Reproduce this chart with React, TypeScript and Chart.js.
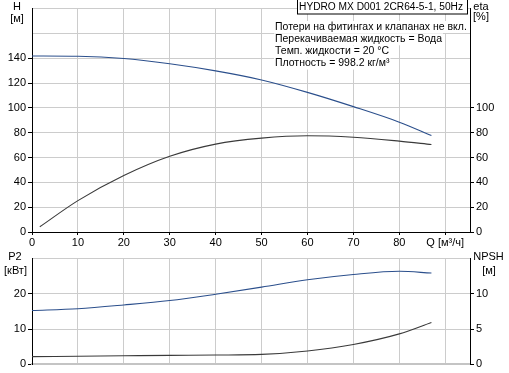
import React, { useEffect, useRef } from 'react';
import { Chart, registerables } from 'chart.js';
Chart.register(...registerables);

// ---- data ----
const flowH = [0, 10, 20, 30, 40, 50, 60, 70, 80, 87];
const headH = [141.8, 141.6, 139.8, 135.5, 129.8, 122.5, 112.5, 101, 88.5, 77.8];
const flowEta = [1.7, 10, 20, 30, 40, 50, 60, 70, 80, 87];
const etaPct = [4.2, 25.3, 45.5, 61, 70.8, 75.6, 77.5, 76.3, 73.2, 70.5];
const flowP = [0, 10, 20, 30, 40, 50, 60, 70, 80, 87];
const powerP2 = [15.3, 15.8, 16.85, 18.1, 19.9, 21.9, 24, 25.5, 26.4, 25.9];
const npshM = [1.1, 1.16, 1.22, 1.28, 1.33, 1.42, 1.9, 2.83, 4.33, 5.95];

const qMin = 0;
const qMax = 95.4;
const qStep = 10;
const qAxisLabel = 'Q [м³/ч]';
const qLabelAt = 90;
const hMax = 180;
const hStep = 20;
const hLabelMax = 140;
const etaLabelMax = 100;
const p2Max = 30;
const p2Step = 10;
const p2LabelMax = 20;
const npshMax = 15;
const npshStep = 5;
const npshLabelMax = 10;

const titleText = 'HYDRO MX D001 2CR64-5-1, 50Hz';
const notes = [
  'Потери на фитингах и клапанах не вкл.',
  'Перекачиваемая жидкость = Вода',
  'Темп. жидкости = 20 °C',
  'Плотность = 998.2 кг/м³',
];

const FONT_FAMILY = '"Liberation Sans", Arial, sans-serif';
const font = { family: FONT_FAMILY, size: 11 };
const GRID = '#cccccc';
const BLUE = '#2b4f8c';
const DARK = '#3a3a3a';

const toXY = (xs: number[], ys: number[]) => xs.map((x, i) => ({ x, y: ys[i] }));

const keepDecades = (s: any) => {
  s.ticks = s.ticks.filter((t: any) => Math.abs(t.value / qStep - Math.round(t.value / qStep)) < 1e-6);
};

const tickCol = (limit: number) => (ctx: any) =>
  ctx.tick && ctx.tick.value <= limit + 1e-6 ? '#000' : 'rgba(0,0,0,0)';

const fitFont = (c: any, text: string, target: number) => {
  c.font = `11px ${FONT_FAMILY}`;
  const w = c.measureText(text).width;
  const size = Math.min(11, (11 * target) / w);
  c.font = `${size.toFixed(2)}px ${FONT_FAMILY}`;
};

const topTexts = {
  id: 'topTexts',
  afterDraw(chart: any) {
    const c = chart.ctx;
    c.save();
    c.font = `11px ${FONT_FAMILY}`;
    c.fillStyle = '#000';
    c.textAlign = 'center';
    c.textBaseline = 'middle';
    c.fillText('H', 17, 7);
    c.fillText('[м]', 17, 19);
    c.fillText('eta', 481, 7);
    c.fillText('[%]', 481, 17);
    // title box
    c.fillStyle = '#fff';
    c.fillRect(297, 0, 171, 14);
    c.strokeStyle = '#000';
    c.lineWidth = 1;
    c.strokeRect(297.5, -0.5, 170, 14.5);
    c.fillStyle = '#000';
    fitFont(c, titleText, 164);
    c.fillText(titleText, 381, 7.5);
    // notes
    fitFont(c, notes[0], 192);
    c.textAlign = 'left';
    const ys = [27, 39.3, 51.6, 63.6];
    notes.forEach((t, i) => {
      const w = c.measureText(t).width;
      c.fillStyle = '#fff';
      c.fillRect(274, ys[i] - 6, w + 2, 12);
      c.fillStyle = '#000';
      c.fillText(t, 275, ys[i]);
    });
    c.restore();
  },
};

const bottomTexts = {
  id: 'bottomTexts',
  afterDraw(chart: any) {
    const c = chart.ctx;
    c.save();
    c.font = `11px ${FONT_FAMILY}`;
    c.fillStyle = '#000';
    c.textAlign = 'center';
    c.textBaseline = 'middle';
    c.fillText('P2', 15, 7);
    c.fillText('[кВт]', 15.5, 21);
    c.fillText('NPSH', 488.5, 7);
    c.fillText('[м]', 489, 21);
    c.restore();
  },
};

function TopChart() {
  const ref = useRef<HTMLCanvasElement>(null);
  useEffect(() => {
    const chart = new Chart(ref.current as HTMLCanvasElement, {
      type: 'line',
      data: {
        datasets: [
          {
            data: toXY(flowH, headH),
            yAxisID: 'y',
            borderColor: BLUE,
            borderWidth: 1.1,
            pointRadius: 0,
            cubicInterpolationMode: 'monotone',
          },
          {
            data: toXY(flowEta, etaPct),
            yAxisID: 'eta',
            borderColor: DARK,
            borderWidth: 1.1,
            pointRadius: 0,
            cubicInterpolationMode: 'monotone',
          },
        ],
      },
      options: {
        animation: false,
        responsive: false,
        devicePixelRatio: 1,
        layout: { padding: 0 },
        plugins: { legend: { display: false }, tooltip: { enabled: false } },
        scales: {
          x: {
            type: 'linear',
            min: qMin,
            max: qMax,
            ticks: {
              stepSize: qStep,
              includeBounds: false,
              color: '#000',
              font,
              padding: 1,
              maxRotation: 0,
              autoSkip: false,
              callback: (v: any) => (Math.abs(v - qLabelAt) < 1e-6 ? qAxisLabel : String(v)),
            },
            afterBuildTicks: keepDecades,
            grid: { color: GRID, lineWidth: 1, tickLength: 3, tickColor: '#000' },
            border: { color: '#000', width: 1 },
            afterFit: (s: any) => {
              s.height = 18;
            },
          },
          y: {
            position: 'left',
            min: 0,
            max: hMax,
            ticks: {
              stepSize: hStep,
              color: '#000',
              font,
              padding: 2,
              callback: (v: any) => (v <= hLabelMax ? String(v) : ''),
            },
            grid: { color: GRID, lineWidth: 1, tickLength: 4, tickColor: tickCol(hLabelMax) },
            border: { color: '#000', width: 1 },
            afterFit: (s: any) => {
              s.width = 32;
            },
          },
          eta: {
            position: 'right',
            min: 0,
            max: hMax,
            ticks: {
              stepSize: hStep,
              color: '#000',
              font,
              padding: 2,
              callback: (v: any) => (v <= etaLabelMax ? String(v) : ''),
            },
            grid: { drawOnChartArea: false, tickLength: 4, tickColor: tickCol(etaLabelMax) },
            border: { color: '#000', width: 1 },
            afterFit: (s: any) => {
              s.width = 39;
            },
          },
        },
      } as any,
      plugins: [topTexts],
    });
    return () => chart.destroy();
  }, []);
  return <canvas ref={ref} width={509} height={250} style={{ display: 'block', width: 509, height: 250 }} />;
}

function BottomChart() {
  const ref = useRef<HTMLCanvasElement>(null);
  useEffect(() => {
    const chart = new Chart(ref.current as HTMLCanvasElement, {
      type: 'line',
      data: {
        datasets: [
          {
            data: toXY(flowP, powerP2),
            yAxisID: 'y',
            borderColor: BLUE,
            borderWidth: 1.1,
            pointRadius: 0,
            cubicInterpolationMode: 'monotone',
          },
          {
            data: toXY(flowP, npshM),
            yAxisID: 'npsh',
            borderColor: DARK,
            borderWidth: 1.1,
            pointRadius: 0,
            cubicInterpolationMode: 'monotone',
          },
        ],
      },
      options: {
        animation: false,
        responsive: false,
        devicePixelRatio: 1,
        layout: { padding: { top: 2 } },
        plugins: { legend: { display: false }, tooltip: { enabled: false } },
        scales: {
          x: {
            type: 'linear',
            min: qMin,
            max: qMax,
            ticks: { stepSize: qStep, includeBounds: false, display: false },
            afterBuildTicks: keepDecades,
            grid: { color: GRID, lineWidth: 1, drawTicks: false },
            border: { color: '#c4c4c4', width: 2 },
            afterFit: (s: any) => {
              s.height = 8;
            },
          },
          y: {
            position: 'left',
            min: 0,
            max: p2Max,
            ticks: {
              stepSize: p2Step,
              color: '#000',
              font,
              padding: 2,
              callback: (v: any) => (v <= p2LabelMax ? String(v) : ''),
            },
            grid: { color: GRID, lineWidth: 1, tickLength: 4, tickColor: tickCol(p2LabelMax) },
            border: { color: '#000', width: 1 },
            afterFit: (s: any) => {
              s.width = 32;
            },
          },
          npsh: {
            position: 'right',
            min: 0,
            max: npshMax,
            ticks: {
              stepSize: npshStep,
              color: '#000',
              font,
              padding: 2,
              callback: (v: any) => (v <= npshLabelMax ? String(v) : ''),
            },
            grid: { drawOnChartArea: false, tickLength: 4, tickColor: tickCol(npshLabelMax) },
            border: { color: '#000', width: 1 },
            afterFit: (s: any) => {
              s.width = 39;
            },
          },
        },
      } as any,
      plugins: [bottomTexts],
    });
    return () => chart.destroy();
  }, []);
  return <canvas ref={ref} width={509} height={123} style={{ display: 'block', width: 509, height: 123 }} />;
}

export default function App() {
  return (
    <div style={{ position: 'absolute', left: 0, top: 0, width: 509, height: 373, background: '#fff' }}>
      <TopChart />
      <BottomChart />
    </div>
  );
}
